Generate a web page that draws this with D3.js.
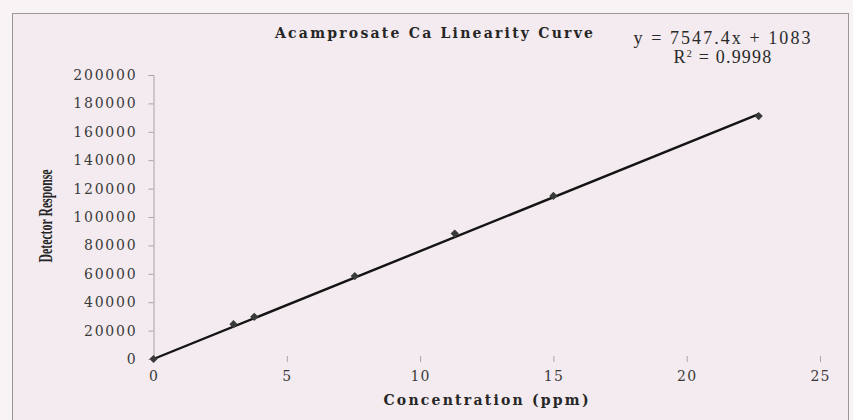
<!DOCTYPE html>
<html>
<head>
<meta charset="utf-8">
<script src="https://cdn.jsdelivr.net/npm/d3@7"></script>
<style>
  body { margin: 0; background: #f8f4f6; }
  svg { display: block; }
  .tick text { font-family: "DejaVu Serif", serif; fill: #3a3a3a; }
</style>
</head>
<body>
<svg id="chart"></svg>
<script>
const concentration = [0, 3.0, 3.78, 7.55, 11.3, 15.0, 22.7];
const response = [0, 24500, 29700, 58400, 88300, 114800, 171100];
const xTicks = [0, 5, 10, 15, 20, 25];
const yTicks = [0, 20000, 40000, 60000, 80000, 100000, 120000, 140000, 160000, 180000, 200000];
const slope = 7547.4;
const intercept = 1083;
const rSquared = 0.9998;

const width = 853;
const height = 420;

const svg = d3.select('#chart').attr('width', width).attr('height', height);

// gradient for the tinted baseline
const defs = svg.append('defs');
const grad = defs.append('linearGradient').attr('id', 'baseTint')
  .attr('x1', '0%').attr('x2', '100%');
grad.append('stop').attr('offset', '0%').attr('stop-color', '#f0b27a');
grad.append('stop').attr('offset', '30%').attr('stop-color', '#e8c090');
grad.append('stop').attr('offset', '36%').attr('stop-color', '#a8a4a6');
grad.append('stop').attr('offset', '100%').attr('stop-color', '#a8a4a6');

// chart frame
svg.append('rect')
  .attr('x', 12.5).attr('y', 13.5)
  .attr('width', 836).attr('height', 420)
  .attr('fill', '#f3ebef')
  .attr('stroke', '#9a9699')
  .attr('stroke-width', 1);

const x = d3.scaleLinear().domain([0, 25]).range([153.5, 820]);
const y = d3.scaleLinear().domain([0, 200000]).range([359, 75]);

// y axis
const yAxis = svg.append('g')
  .attr('transform', `translate(${x(0)},0)`)
  .call(d3.axisLeft(y).tickValues(yTicks).tickSize(5).tickPadding(11).tickFormat(d3.format('d')));
yAxis.select('.domain').attr('stroke', '#a8a4a6');
yAxis.selectAll('.tick line').attr('stroke', '#a8a4a6');
yAxis.selectAll('.tick text')
  .attr('font-size', '14px')
  .attr('letter-spacing', '1.8px');

// x axis
const xAxis = svg.append('g')
  .attr('transform', `translate(0,${y(0)})`)
  .call(d3.axisBottom(x).tickValues(xTicks).tickSize(0).tickPadding(12));
xAxis.select('.domain').attr('stroke', 'url(#baseTint)').attr('stroke-width', 1.5);
xAxis.selectAll('.tick').append('line')
  .attr('y1', -3).attr('y2', 3)
  .attr('stroke', '#a8a4a6');
xAxis.selectAll('.tick text')
  .attr('font-size', '14px')
  .attr('letter-spacing', '1.2px');

// trendline from the fitted equation
const xMax = d3.max(concentration);
svg.append('line')
  .attr('x1', x(0)).attr('y1', y(0))
  .attr('x2', x(xMax)).attr('y2', y(slope * xMax + intercept))
  .attr('stroke', '#141414')
  .attr('stroke-width', 2.4);

// data markers
svg.append('g').selectAll('path')
  .data(concentration.map((c, i) => ({ c, r: response[i] })))
  .join('path')
  .attr('d', d3.symbol(d3.symbolSquare, 34))
  .attr('transform', d => `translate(${x(d.c)},${y(d.r)}) rotate(45)`)
  .attr('fill', '#3a3a3a');

// title
svg.append('text')
  .attr('x', 434).attr('y', 38)
  .attr('text-anchor', 'middle')
  .attr('font-family', 'DejaVu Serif, serif')
  .attr('font-weight', 'bold')
  .attr('font-size', '14px')
  .attr('fill', '#262626')
  .attr('textLength', 318)
  .attr('lengthAdjust', 'spacing')
  .text('Acamprosate Ca Linearity Curve');

// equation and R²
svg.append('text')
  .attr('x', 722).attr('y', 44)
  .attr('text-anchor', 'middle')
  .attr('font-family', 'Liberation Serif, serif')
  .attr('font-size', '18px')
  .attr('fill', '#2a2a2a')
  .attr('textLength', 177)
  .attr('lengthAdjust', 'spacing')
  .text(`y = ${slope}x + ${intercept}`);

const r2 = svg.append('text')
  .attr('x', 723).attr('y', 63)
  .attr('text-anchor', 'middle')
  .attr('font-family', 'Liberation Serif, serif')
  .attr('font-size', '18px')
  .attr('fill', '#2a2a2a')
  .attr('letter-spacing', '1.2px');
r2.append('tspan').text('R');
r2.append('tspan').attr('dy', -6).attr('font-size', '10px').text('2');
r2.append('tspan').attr('dy', 6).text(` = ${rSquared}`);

// axis titles
svg.append('text')
  .attr('transform', 'translate(52,216) rotate(-90)')
  .attr('text-anchor', 'middle')
  .attr('font-family', 'Liberation Serif, serif')
  .attr('font-weight', 'bold')
  .attr('font-size', '18px')
  .attr('fill', '#262626')
  .attr('textLength', 93)
  .attr('lengthAdjust', 'spacingAndGlyphs')
  .text('Detector Response');

svg.append('text')
  .attr('x', 486).attr('y', 405)
  .attr('text-anchor', 'middle')
  .attr('font-family', 'DejaVu Serif, serif')
  .attr('font-weight', 'bold')
  .attr('font-size', '14px')
  .attr('fill', '#262626')
  .attr('textLength', 205)
  .attr('lengthAdjust', 'spacing')
  .text('Concentration (ppm)');
</script>
</body>
</html>
